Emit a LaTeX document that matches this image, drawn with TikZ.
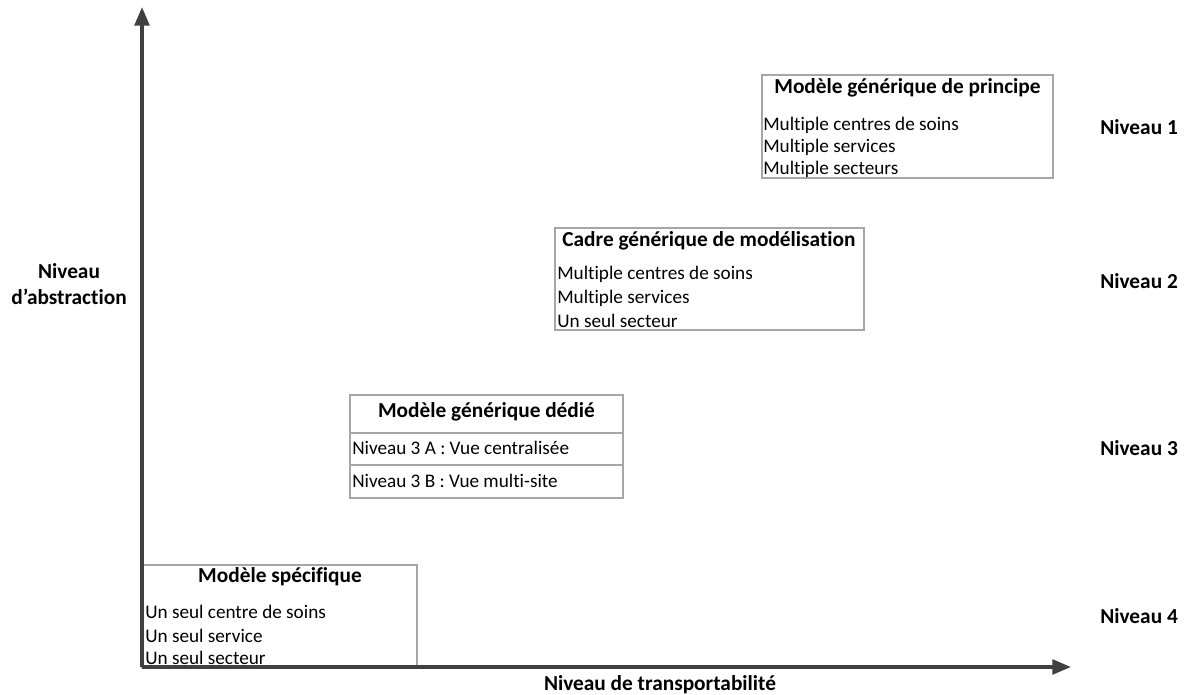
\documentclass[tikz,border=0pt]{standalone}
\usepackage{fontspec}
\setmainfont{Carlito}[Ligatures=CommonOff]
\usetikzlibrary{arrows.meta}
\definecolor{axisgray}{HTML}{404040}
\definecolor{boxgray}{HTML}{A6A6A6}
\tikzset{
  axis/.style={draw=axisgray, line width=2.6pt, -{Triangle[length=14pt,width=11pt]}},
  box/.style={draw=boxgray, line width=0.8pt, fill=white},
  ttl/.style={font=\fontsize{16}{19}\selectfont\bfseries, inner sep=0pt},
  txt/.style={font=\fontsize{14.4}{17}\selectfont, inner sep=0pt, anchor=west},
  lvl/.style={font=\fontsize{16}{19.5}\selectfont\bfseries, inner sep=0pt, anchor=west},
}
\begin{document}
\begin{tikzpicture}[x=0.75pt,y=-0.75pt]
\useasboundingbox (0,0) rectangle (1188,695);
% axes
\coordinate (o) at (142,667);
\coordinate (ytop) at (142,7);
\coordinate (xend) at (1071,667);
% boxes
\draw[box] (762,75) rectangle (1053,178);
\draw[box] (555,228) rectangle (864,330);
\draw[box] (350,395) rectangle (623,498);
\draw[box] (350,433) -- (623,433);
\draw[box] (350,465) -- (623,465);
\draw[box] (142,565) rectangle (417,667);
\draw[axis] (o) -- (ytop);
\draw[axis] (o) -- (xend);
% box 1
\node[ttl] (t1) at (907.5,88) {Modèle générique de principe};
\node[txt] (a1) at (763,125) {Multiple centres de soins};
\node[txt] (a2) at (763,147) {Multiple services};
\node[txt] (a3) at (763,169) {Multiple secteurs};
% box 2
\node[ttl] (t2) at (709,241) {Cadre générique de modélisation};
\node[txt] (b1) at (557,274) {Multiple centres de soins};
\node[txt] (b2) at (557,298) {Multiple services};
\node[txt] (b3) at (557,321) {Un seul secteur};
% box 3
\node[ttl] (t3) at (486.5,412) {Modèle générique dédié};
\node[txt] (c1) at (352,448) {Niveau 3 A : Vue centralisée};
\node[txt] (c2) at (352,481) {Niveau 3 B : Vue multi-site};
% box 4
\node[ttl] (t4) at (280,577) {Modèle spécifique};
\node[txt] (d1) at (145,612) {Un seul centre de soins};
\node[txt] (d2) at (145,636) {Un seul service};
\node[txt] (d3) at (145,658) {Un seul secteur};
% levels
\node[lvl] (n1) at (1100,127) {Niveau 1};
\node[lvl] (n2) at (1100,281) {Niveau 2};
\node[lvl] (n3) at (1100,448) {Niveau 3};
\node[lvl] (n4) at (1100,616) {Niveau 4};
% axis labels
\node[lvl, anchor=center, align=center] (ya) at (69,284) {Niveau\\d’abstraction};
\node[lvl, anchor=center] (xa) at (660,685) {Niveau de transportabilité};
\end{tikzpicture}
\end{document}
